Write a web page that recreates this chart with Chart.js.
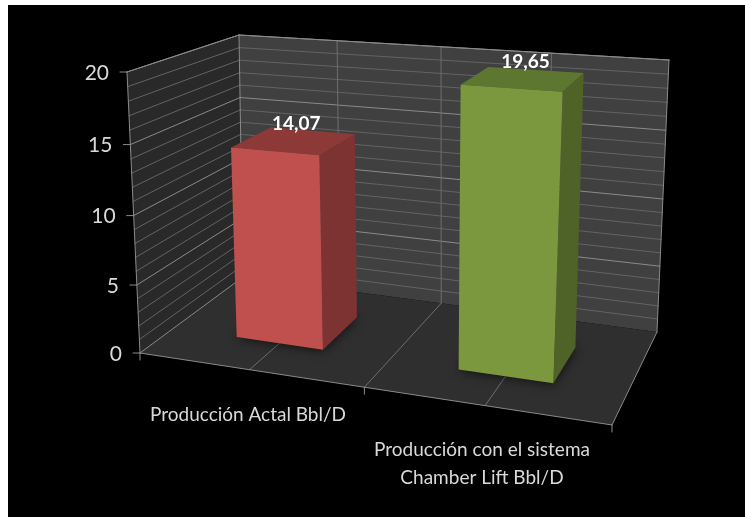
<!DOCTYPE html>
<html>
<head>
<meta charset="utf-8">
<style>
  html, body { margin: 0; background: #fff; }
  #wrap { position: absolute; left: 8px; top: 5px; width: 737px; height: 512px; }
</style>
</head>
<body>
<div id="wrap"><canvas id="chart"></canvas></div>
<script src="https://cdn.jsdelivr.net/npm/chart.js@4"></script>
<script>
const categories = ['Producción Actal Bbl/D', 'Producción con el sistema\nChamber Lift Bbl/D'];
const seriesValues = [14.07, 19.65];
const barFront = ['#c0504d', '#7b983e'];
const barSide = ['#7d3331', '#4f6228'];
const barTop = ['#8c3937', '#5d7730'];

// frame corners of the 3D box, in page pixels; the canvas is offset by offX, offY
const offX = 8, offY = 5;
const floorQuad = [[140, 353], [612, 425], [657, 332], [243, 277]];
const topQuad = [[127, 72], [630, 108], [669, 60], [239, 35]];
const depthFront = 0.3, depthBack = 0.7;
const heightPersp = 0.045;

function homography(q) {
    const [x0, y0] = q[0], [x1, y1] = q[1], [x2, y2] = q[2], [x3, y3] = q[3];
    const dx1 = x1 - x2, dx2 = x3 - x2, sx = x0 - x1 + x2 - x3;
    const dy1 = y1 - y2, dy2 = y3 - y2, sy = y0 - y1 + y2 - y3;
    const det = dx1 * dy2 - dx2 * dy1;
    const g = (sx * dy2 - dx2 * sy) / det;
    const h = (dx1 * sy - sx * dy1) / det;
    const a = x1 - x0 + g * x1, b = x3 - x0 + h * x3;
    const d = y1 - y0 + g * y1, e = y3 - y0 + h * y3;
    return (u, v) => {
        const w = g * u + h * v + 1;
        return [(a * u + b * v + x0) / w - offX, (d * u + e * v + y0) / w - offY];
    };
}
const floorAt = homography(floorQuad);
const topAt = homography(topQuad);

// u across the categories, w front to back, h floor to top of the value axis
function project(u, w, h) {
    const a = floorAt(u, w), b = topAt(u, w);
    const t = h / (1 + heightPersp * (1 - h));
    return [a[0] + (b[0] - a[0]) * t, a[1] + (b[1] - a[1]) * t];
}

function poly(ctx, pts, fill) {
    ctx.beginPath();
    pts.forEach((p, i) => i ? ctx.lineTo(p[0], p[1]) : ctx.moveTo(p[0], p[1]));
    ctx.closePath();
    ctx.fillStyle = fill;
    ctx.fill();
}

function seg(ctx, a, b, color, width) {
    ctx.beginPath();
    ctx.moveTo(a[0], a[1]);
    ctx.lineTo(b[0], b[1]);
    ctx.strokeStyle = color;
    ctx.lineWidth = width || 1;
    ctx.stroke();
}

const box3d = {
    id: 'box3d',
    beforeDatasetsDraw(chart) {
        const ctx = chart.ctx, y = chart.scales.y;
        const hOf = v => (y.bottom - y.getPixelForValue(v)) / (y.bottom - y.top);
        ctx.save();
        ctx.lineCap = 'round';

        poly(ctx, [project(0, 0, 0), project(0, 1, 0), project(0, 1, 1), project(0, 0, 1)], '#292929');
        poly(ctx, [project(0, 1, 0), project(1, 1, 0), project(1, 1, 1), project(0, 1, 1)], '#404040');
        poly(ctx, [project(0, 0, 0), project(1, 0, 0), project(1, 1, 0), project(0, 1, 0)], '#2f2f2f');

        // value gridlines on both walls
        y.ticks.forEach(t => {
            const major = t.value % 5 === 0;
            const h = hOf(t.value);
            const c = major ? '#8a8a8a' : '#636363';
            if (t.value > 0) {
                seg(ctx, project(0, 0, h), project(0, 1, h), c);
                seg(ctx, project(0, 1, h), project(1, 1, h), c);
            }
            if (major) {
                const p = project(0, 0, h);
                seg(ctx, [p[0] - 7, p[1]], p, '#8a8a8a');
            }
        });

        // category gridlines, back wall and floor
        [0.25, 0.5, 0.75].forEach(u => {
            seg(ctx, project(u, 1, 0), project(u, 1, 1), '#6e6e6e');
            seg(ctx, project(u, 0, 0), project(u, 1, 0), '#6e6e6e');
        });

        // box edges
        seg(ctx, project(0, 0, 0), project(0, 0, 1), '#8a8a8a');
        seg(ctx, project(0, 1, 0), project(0, 1, 1), '#8a8a8a');
        seg(ctx, project(1, 1, 0), project(1, 1, 1), '#8a8a8a');
        seg(ctx, project(0, 0, 1), project(0, 1, 1), '#8a8a8a');
        seg(ctx, project(0, 1, 1), project(1, 1, 1), '#8a8a8a');
        seg(ctx, project(0, 0, 0), project(0, 1, 0), '#8a8a8a');
        seg(ctx, project(1, 0, 0), project(1, 1, 0), '#8a8a8a');
        seg(ctx, project(0, 0, 0), project(1, 0, 0), '#8a8a8a');

        // category ticks under the front edge
        [0, 0.5, 1].forEach(u => {
            const p = project(u, 0, 0);
            seg(ctx, p, [p[0], p[1] + 7], '#8a8a8a');
        });

        ctx.restore();
    },
    afterDatasetsDraw(chart) {
        const ctx = chart.ctx, x = chart.scales.x, y = chart.scales.y;
        const uOf = px => (px - x.left) / (x.right - x.left);
        const hOf = v => (y.bottom - y.getPixelForValue(v)) / (y.bottom - y.top);
        const bars = chart.getDatasetMeta(0).data;

        ctx.save();
        bars.forEach((bar, i) => {
            const u0 = uOf(bar.x - bar.width / 2), u1 = uOf(bar.x + bar.width / 2);
            const w0 = depthFront, w1 = depthBack;
            const h = hOf(seriesValues[i]);

            // soft contact shadow on the floor
            ctx.save();
            ctx.shadowColor = 'rgba(0,0,0,0.75)';
            ctx.shadowBlur = 12;
            poly(ctx, [project(u0, w0, 0), project(u1, w0, 0), project(u1, w1, 0), project(u0, w1, 0)], '#1c1c1c');
            ctx.restore();

            poly(ctx, [project(u1, w0, 0), project(u1, w1, 0), project(u1, w1, h), project(u1, w0, h)], barSide[i]);
            poly(ctx, [project(u0, w0, h), project(u1, w0, h), project(u1, w1, h), project(u0, w1, h)], barTop[i]);
            poly(ctx, [project(u0, w0, 0), project(u1, w0, 0), project(u1, w0, h), project(u0, w0, h)], barFront[i]);
        });

        // value labels over the bars
        ctx.fillStyle = '#ffffff';
        ctx.font = 'bold 19px Lato';
        ctx.textAlign = 'center';
        ctx.textBaseline = 'middle';
        bars.forEach((bar, i) => {
            const p = project(uOf(bar.x), 0.5, hOf(seriesValues[i]));
            ctx.fillText(seriesValues[i].toFixed(2).replace('.', ','), p[0] + 2, p[1] - 17);
        });

        // value axis labels follow the slanted front edge
        ctx.fillStyle = '#d9d9d9';
        ctx.font = '21px Lato';
        ctx.textAlign = 'right';
        y.ticks.filter(t => t.value % 5 === 0).forEach(t => {
            const p = project(0, 0, hOf(t.value));
            ctx.fillText(String(t.value), p[0] - 18, p[1] + 1);
        });

        // category labels under the floor
        ctx.font = '19px Lato';
        ctx.textAlign = 'center';
        const labelY = [415, 450];
        const labelX = [248, 482];
        categories.forEach((c, i) => {
            c.split('\n').forEach((line, k) => {
                ctx.fillText(line, labelX[i] - offX, labelY[i] - offY + k * 28);
            });
        });
        ctx.restore();
    }
};

new Chart(document.getElementById('chart'), {
    type: 'bar',
    data: {
        labels: categories,
        datasets: [{
            data: seriesValues,
            backgroundColor: 'transparent',
            borderWidth: 0,
            barPercentage: 0.4,
            categoryPercentage: 1
        }]
    },
    options: {
        responsive: true,
        maintainAspectRatio: false,
        animation: false,
        layout: { padding: { left: 132, right: 125, top: 67, bottom: 164 } },
        plugins: {
            legend: { display: false },
            tooltip: { enabled: false }
        },
        scales: {
            x: { ticks: { display: false }, grid: { display: false }, border: { display: false } },
            y: {
                min: 0,
                max: 20,
                ticks: { display: false, stepSize: 1 },
                grid: { display: false },
                border: { display: false }
            }
        }
    },
    plugins: [{
        id: 'blackBackground',
        beforeDraw(chart) {
            chart.ctx.save();
            chart.ctx.fillStyle = '#000';
            chart.ctx.fillRect(0, 0, chart.width, chart.height);
            chart.ctx.restore();
        }
    }, box3d]
});
</script>
</body>
</html>
